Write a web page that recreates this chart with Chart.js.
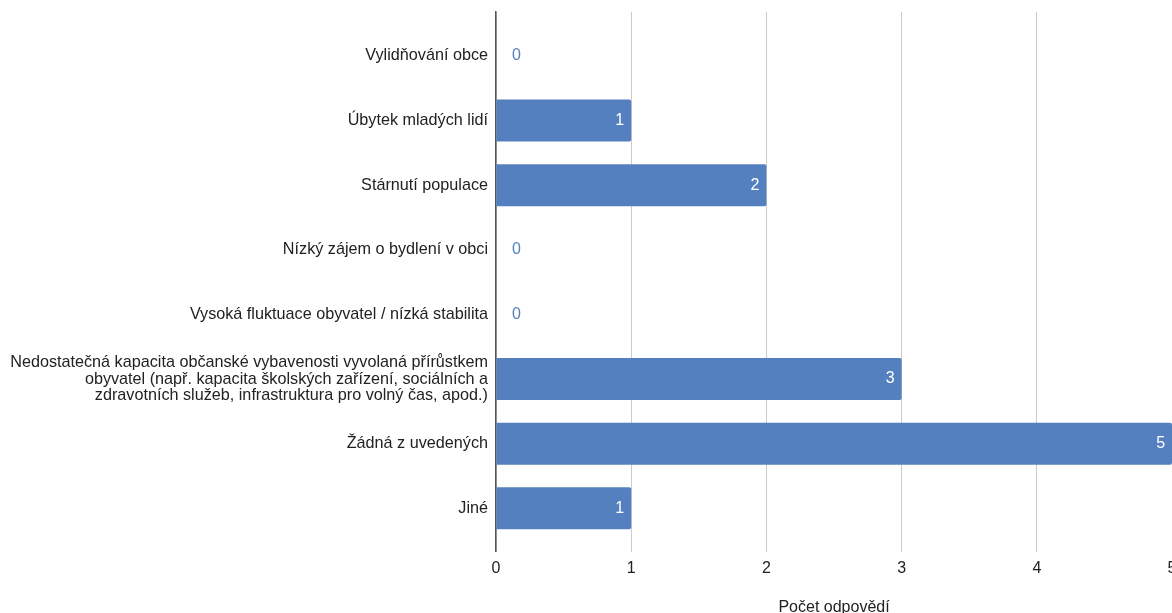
<!DOCTYPE html>
<html lang="cs">
<head>
  <meta charset="UTF-8">
  <title>Počet odpovědí</title>
  <script src="https://cdn.jsdelivr.net/npm/chart.js"></script>
  <style>
    html, body {
      margin: 0;
      padding: 0;
      background: #fff;
      overflow: hidden;
    }

    .wrap {
      position: absolute;
      left: 0;
      top: 0;
      width: 1184px;
      height: 621px;
    }
  </style>
</head>
<body>
  <div class="wrap">
    <canvas id="chart"></canvas>
  </div>

  <script>
    const categories = [
      'Vylidňování obce',
      'Úbytek mladých lidí',
      'Stárnutí populace',
      'Nízký zájem o bydlení v obci',
      'Vysoká fluktuace obyvatel / nízká stabilita',
      ['Nedostatečná kapacita občanské vybavenosti vyvolaná přírůstkem',
       'obyvatel (např. kapacita školských zařízení, sociálních a',
       'zdravotních služeb, infrastruktura pro volný čas, apod.)'],
      'Žádná z uvedených',
      'Jiné'
    ];
    const counts = [0, 1, 2, 0, 0, 3, 5, 1];
    const xTicks = [0, 1, 2, 3, 4, 5];

    const barColor = '#5580bf';
    const fontFamily = '"Liberation Sans", Arial, sans-serif';

    // popisky hodnot: bílé uvnitř sloupce, nuly modře vedle osy
    const valueLabels = {
      id: 'valueLabels',
      afterDatasetsDraw(chart) {
        const ctx = chart.ctx;
        const meta = chart.getDatasetMeta(0);
        ctx.save();
        ctx.font = '16px ' + fontFamily;
        ctx.textBaseline = 'middle';
        meta.data.forEach((bar, i) => {
          const v = counts[i];
          if (v > 0) {
            ctx.fillStyle = '#ffffff';
            ctx.textAlign = 'right';
            ctx.fillText(String(v), bar.x - 7, bar.y);
          } else {
            ctx.fillStyle = barColor;
            ctx.textAlign = 'left';
            ctx.fillText(String(v), bar.base + 16, bar.y);
          }
        });
        ctx.restore();
      }
    };

    new Chart(document.getElementById('chart'), {
      type: 'bar',
      data: {
        datasets: [{
          data: counts.map((v, i) => ({ x: v, y: i })),
          backgroundColor: barColor,
          borderRadius: 2,
          categoryPercentage: 0.65,
          barPercentage: 1
        }]
      },
      options: {
        indexAxis: 'y',
        responsive: true,
        maintainAspectRatio: false,
        animation: false,
        layout: { padding: { top: 12, left: 0, right: 0, bottom: 4 } },
        plugins: {
          legend: { display: false },
          tooltip: { enabled: false }
        },
        scales: {
          x: {
            type: 'linear',
            min: 0,
            max: 5,
            afterBuildTicks: s => { s.ticks = xTicks.map(v => ({ value: v })); },
            grid: { color: '#cccccc', drawTicks: false, lineWidth: 1 },
            border: { display: false },
            ticks: {
              padding: 7.5,
              color: '#222',
              font: { family: fontFamily, size: 16 }
            },
            title: {
              display: true,
              text: 'Počet odpovědí',
              color: '#222',
              font: { family: fontFamily, size: 16 },
              padding: { top: 12, bottom: 0 }
            }
          },
          y: {
            type: 'linear',
            reverse: true,
            offset: false,
            min: -0.68,
            max: 7.67,
            afterBuildTicks: s => { s.ticks = categories.map((c, i) => ({ value: i })); },
            afterFit: s => {
              s.width = 496;
              s.paddingTop = 0;
              s.paddingBottom = 0;
            },
            grid: { display: false, drawTicks: false },
            border: { display: true, color: '#555', width: 1.5 },
            ticks: {
              autoSkip: false,
              padding: 8,
              color: '#222',
              font: { family: fontFamily, size: 16.2, lineHeight: 1.04 },
              callback: v => categories[v]
            }
          }
        }
      },
      plugins: [valueLabels]
    });
  </script>
</body>
</html>
